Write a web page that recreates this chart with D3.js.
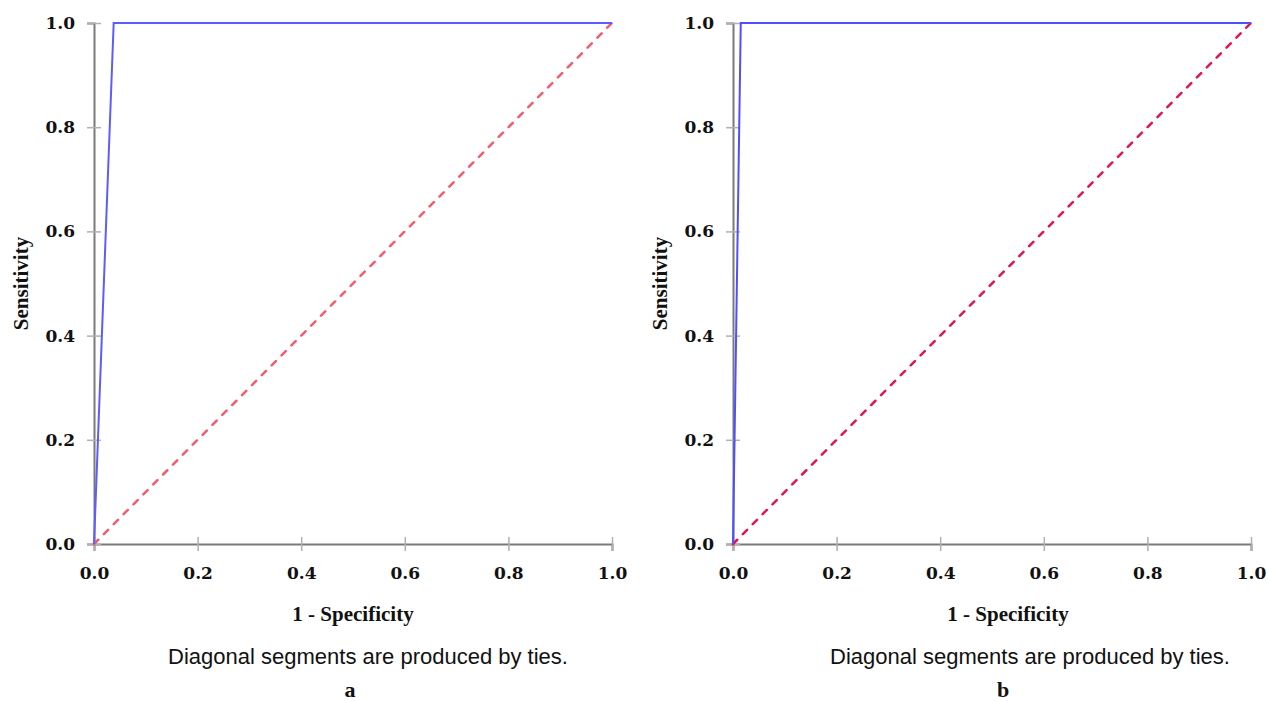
<!DOCTYPE html>
<html>
<head>
<meta charset="utf-8">
<script src="https://cdn.jsdelivr.net/npm/d3@7"></script>
<style>
  body { margin: 0; background: #fff; }
  svg text { fill: #111; }
</style>
</head>
<body>
<svg id="chart" width="1268" height="701"></svg>
<script>
// ROC curves, two panels
var ticks = [0, 0.2, 0.4, 0.6, 0.8, 1.0];
var panelLabels = ["a", "b"];
var curveA = [[0, 0], [0.038, 1], [1, 1]];
var curveB = [[0, 0], [0.015, 1], [1, 1]];
var reference = [[0, 0], [1, 1]];

var panels = [
  { left: 94, curve: curveA, label: panelLabels[0], diag: "#f25c6e", blue: "#5c5cff", noteX: 368, titleX: 353, letterX: 350 },
  { left: 733, curve: curveB, label: panelLabels[1], diag: "#e01650", blue: "#4f4fff", noteX: 1030, titleX: 1008, letterX: 1003 }
];

var svg = d3.select("#chart");
var plotW = 518, plotTop = 23, plotBottom = 544;

panels.forEach(function(p) {
  var x = d3.scaleLinear().domain([0, 1]).range([p.left, p.left + plotW]);
  var y = d3.scaleLinear().domain([0, 1]).range([plotBottom, plotTop]);
  var g = svg.append("g");

  var xa = g.append("g").attr("transform", "translate(0," + plotBottom + ")")
    .call(d3.axisBottom(x).tickValues(ticks).tickFormat(d3.format(".1f")).tickSize(7).tickPadding(16));
  var ya = g.append("g").attr("transform", "translate(" + p.left + ",0)")
    .call(d3.axisLeft(y).tickValues(ticks).tickFormat(d3.format(".1f")).tickSize(7).tickPadding(12));

  [xa, ya].forEach(function(a) {
    a.select(".domain").attr("stroke", "#7a7a7a").attr("stroke-width", 2);
    a.selectAll(".tick line").attr("stroke", "#b0b0b0").attr("stroke-width", 1.5);
    a.selectAll(".tick text")
      .style("font-family", "'DejaVu Serif', serif").style("font-weight", "bold")
      .style("font-size", "17px").attr("fill", "#111");
  });
  xa.selectAll(".tick line").attr("y1", -7);
  ya.selectAll(".tick line").attr("x1", 7).attr("x2", -7);

  var line = d3.line().x(function(d) { return x(d[0]); }).y(function(d) { return y(d[1]); });

  g.append("path").datum(reference).attr("d", line)
    .attr("fill", "none").attr("stroke", p.diag).attr("stroke-width", 2.5)
    .attr("stroke-linecap", "round").attr("stroke-dasharray", "6,8");
  g.append("path").datum(p.curve).attr("d", line)
    .attr("fill", "none").attr("stroke", p.blue).attr("stroke-width", 2);

  g.append("text").attr("transform", "translate(" + (p.left - 66) + "," + ((plotTop + plotBottom) / 2) + ") rotate(-90)")
    .attr("text-anchor", "middle")
    .style("font-family", "'Liberation Serif', serif").style("font-weight", "bold").style("font-size", "21px")
    .text("Sensitivity");

  g.append("text").attr("x", p.titleX).attr("y", 621).attr("text-anchor", "middle")
    .style("font-family", "'Liberation Serif', serif").style("font-weight", "bold").style("font-size", "21px")
    .text("1 - Specificity");

  g.append("text").attr("x", p.noteX).attr("y", 664).attr("text-anchor", "middle")
    .style("font-family", "'Liberation Sans', Arial, sans-serif").style("font-size", "22px").attr("fill", "#333")
    .text("Diagonal segments are produced by ties.");

  g.append("text").attr("x", p.letterX).attr("y", 697).attr("text-anchor", "middle")
    .style("font-family", "'Liberation Serif', serif").style("font-weight", "bold").style("font-size", "22px")
    .text(p.label);
});
</script>
</body>
</html>
